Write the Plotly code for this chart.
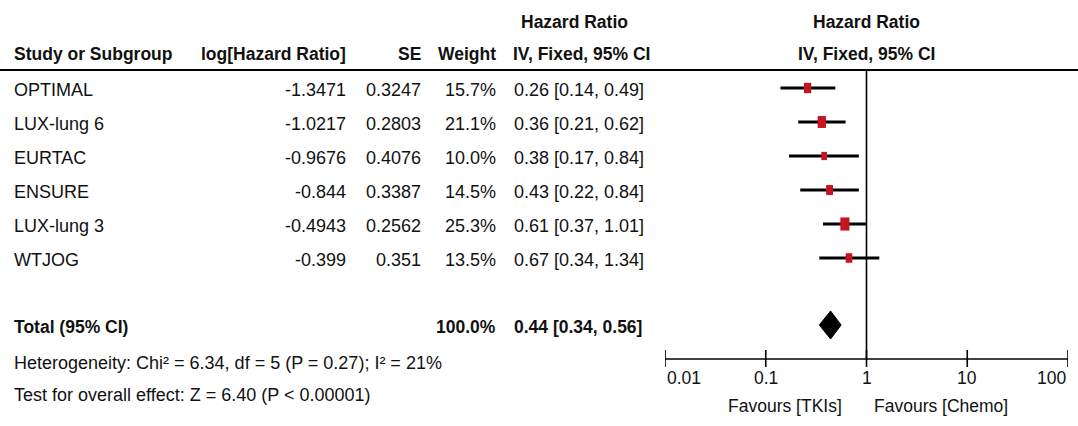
import numpy as np
import plotly.graph_objects as go

# ---- data ----
studies = ["OPTIMAL", "LUX-lung 6", "EURTAC", "ENSURE", "LUX-lung 3", "WTJOG"]
log_hr = ["-1.3471", "-1.0217", "-0.9676", "-0.844", "-0.4943", "-0.399"]
se = ["0.3247", "0.2803", "0.4076", "0.3387", "0.2562", "0.351"]
weights = [15.7, 21.1, 10.0, 14.5, 25.3, 13.5]
hr = [0.26, 0.36, 0.38, 0.43, 0.61, 0.67]
ci_low = [0.14, 0.21, 0.17, 0.22, 0.37, 0.34]
ci_high = [0.49, 0.62, 0.84, 0.84, 1.01, 1.34]
total_hr = 0.44
total_low = 0.34
total_high = 0.56
total_weight = "100.0%"
heterogeneity = "Heterogeneity: Chi² = 6.34, df = 5 (P = 0.27); I² = 21%"
overall = "Test for overall effect: Z = 6.40 (P < 0.00001)"
tick_vals = [0.01, 0.1, 1, 10, 100]
tick_text = ["0.01", "0.1", "1", "10", "100"]

# ---- layout constants (pixels) ----
W, H = 1078, 426
FONT = "Liberation Sans, Arial, sans-serif"
FS = 18
FSB = 17.5
TXT = "#111111"
row_y = [88 + 34 * i for i in range(len(studies))]
total_y = 325
het_y = 363
test_y = 395
header_line_y = 70
axis_y = 359

def px(x):
    return x / W

fig = go.Figure()

# CI lines
cx, cy = [], []
for lo, hi, y in zip(ci_low, ci_high, row_y):
    cx += [lo, hi, None]
    cy += [y, y, None]
fig.add_trace(go.Scatter(x=cx, y=cy, mode="lines", line=dict(color="black", width=2.8),
                         hoverinfo="skip", showlegend=False))

# weighted squares (drawn as rectangles, as in the stretched reference)
for h_, w_, y in zip(hr, weights, row_y):
    s = np.sqrt(w_)
    fig.add_trace(go.Scatter(x=[h_, h_], y=[y - 1.3 * s, y + 1.3 * s], mode="lines",
                             line=dict(color="#C8141E", width=1.8 * s),
                             hoverinfo="skip", showlegend=False))

# null line
fig.add_trace(go.Scatter(x=[1, 1], y=[header_line_y, axis_y], mode="lines",
                         line=dict(color="black", width=1.6), hoverinfo="skip", showlegend=False))

# diamond
fig.add_trace(go.Scatter(x=[total_low, total_hr, total_high, total_hr, total_low],
                         y=[total_y, total_y - 14, total_y, total_y + 14, total_y],
                         mode="lines", fill="toself", fillcolor="black",
                         line=dict(color="black", width=1), hoverinfo="skip", showlegend=False))

# axis line + ticks
tx, ty = [tick_vals[0], tick_vals[-1], None], [axis_y, axis_y, None]
for t in tick_vals:
    tx += [t, t, None]
    ty += [axis_y - 9, axis_y + 8, None]
fig.add_trace(go.Scatter(x=tx, y=ty, mode="lines", line=dict(color="black", width=1.6),
                         hoverinfo="skip", showlegend=False))

ann = []
def add(text, x, y, anchor="left", bold=False, xref="paper", size=None):
    if size is None:
        size = FSB if bold else FS
    ann.append(dict(text=f"<b>{text}</b>" if bold else text, x=x, y=y, xref=xref, yref="y",
                    xanchor=anchor, yanchor="middle", showarrow=False,
                    font=dict(family=FONT, size=size, color=TXT)))

# headers
add("Study or Subgroup", px(12), 54, bold=True)
add("log[Hazard Ratio]", px(348), 54, "right", bold=True)
add("SE", px(423), 54, "right", bold=True)
add("Weight", px(498), 54, "right", bold=True)
add("Hazard Ratio", px(574), 22, "center", bold=True)
add("IV, Fixed, 95% CI", px(581), 54, "center", bold=True)
add("Hazard Ratio", 0, 22, "center", bold=True, xref="x")
add("IV, Fixed, 95% CI", 0, 54, "center", bold=True, xref="x")

# rows
for i, y in enumerate(row_y):
    yt = y + 2
    add(studies[i], px(12), yt)
    add(log_hr[i], px(348), yt, "right")
    add(se[i], px(423), yt, "right")
    add(f"{weights[i]:.1f}%", px(498), yt, "right")
    add(f"{hr[i]:.2f} [{ci_low[i]:.2f}, {ci_high[i]:.2f}]", px(512), yt)

add("Total (95% CI)", px(12), total_y + 2, bold=True)
add(total_weight, px(498), total_y + 2, "right", bold=True)
add(f"{total_hr:.2f} [{total_low:.2f}, {total_high:.2f}]", px(512), total_y + 2, bold=True)
add(heterogeneity, px(12), het_y)
add(overall, px(12), test_y)

# tick labels
for i, (v, t) in enumerate(zip(tick_vals, tick_text)):
    anchor = "left" if i == 0 else ("right" if i == len(tick_vals) - 1 else "center")
    add(t, np.log10(v), axis_y + 19, anchor, xref="x", size=17.5)

add("Favours [TKIs]", np.log10(1) - 0.22, 406, "right", xref="x", size=17.5)
add("Favours [Chemo]", np.log10(1) + 0.056, 406, "left", xref="x", size=17.5)

fig.update_layout(
    width=W, height=H,
    margin=dict(l=0, r=0, t=0, b=0),
    paper_bgcolor="white", plot_bgcolor="white",
    xaxis=dict(type="log", range=[-2, 2], domain=[665 / W, 1068 / W], visible=False),
    yaxis=dict(range=[H, 0], visible=False),
    annotations=ann,
    shapes=[dict(type="line", xref="paper", yref="y", x0=0, x1=1,
                 y0=header_line_y, y1=header_line_y, line=dict(color="black", width=2))],
)

fig.write_html("out.html", config={"displayModeBar": False},
               post_script="document.body.style.margin='0px';")
